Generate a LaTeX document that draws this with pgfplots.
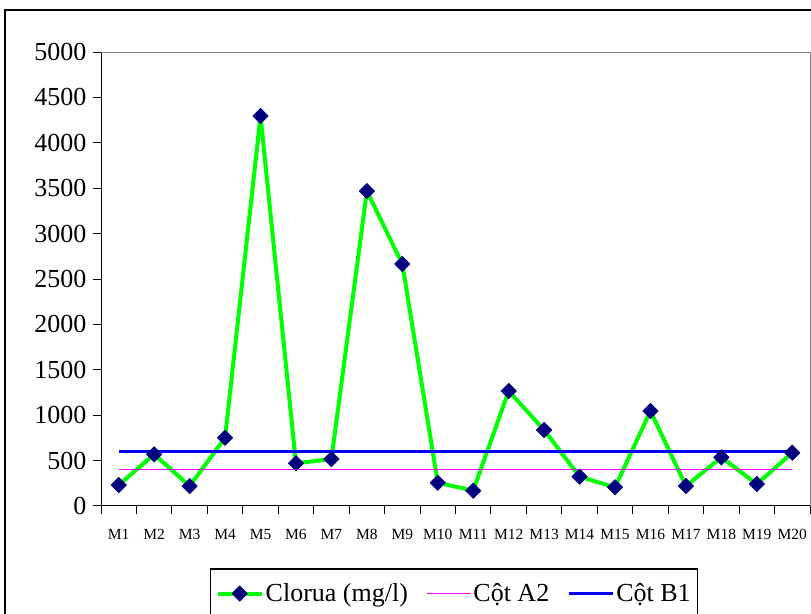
\documentclass[border=0pt]{standalone}
\usepackage{fontspec}
\setmainfont{Liberation Serif}
\usepackage{pgfplots}
\pgfplotsset{compat=1.18}
\definecolor{navy}{HTML}{000080}
\definecolor{lgreen}{HTML}{00FF00}
\definecolor{mag}{RGB}{255,0,255}
\begin{document}
\begin{tikzpicture}
\useasboundingbox (0,0) rectangle (811bp,614bp);
\clip (0,0) rectangle (811bp,614bp);
\draw[line width=1.5bp] (5bp,604bp) rectangle (840bp,-40bp);
\begin{axis}[
  scale only axis, width=709bp, height=454bp,
  at={(101bp,108bp)}, anchor=south west,
  xmin=0.5, xmax=20.5, ymin=0, ymax=5000,
  axis x line*=bottom, axis y line*=left,
  axis line style={-, black, line width=1bp},
  xtick={1,...,20},
  xticklabels={M1,M2,M3,M4,M5,M6,M7,M8,M9,M10,M11,M12,M13,M14,M15,M16,M17,M18,M19,M20},
  major x tick style={draw=none},
  minor xtick={0.5,1.5,...,20.5},
  ytick={0,500,...,5000},
  tick align=outside, major tick length=8bp, minor tick length=8bp,
  tick style={black, line width=1bp},
  yticklabel style={font=\fontsize{26bp}{28bp}\selectfont, xshift=-3bp},
  xticklabel style={font=\fontsize{15.5bp}{17bp}\selectfont, yshift=-12bp},
  /pgf/number format/assume math mode=true,
  /pgf/number format/1000 sep={},
  clip=false,
  legend style={at={(axis description cs:0.1537,-0.1366)}, anchor=north west,
    legend columns=3, draw=black, line width=1.5bp,
    font=\fontsize{26bp}{28bp}\selectfont, inner xsep=5bp, inner ysep=13bp,
    /tikz/every even column/.append style={column sep=16bp}},
  legend image code/.code={\draw[mark repeat=2,mark phase=2] plot coordinates {(0bp,0bp) (22bp,0bp) (44bp,0bp)};},
]
\addplot[lgreen, line width=4bp, line join=round, mark=square*, mark size=5.5bp,
  mark options={rotate=45, fill=navy, draw=navy, line width=0.5bp}]
  coordinates {(1,231) (2,569) (3,220) (4,752) (5,4295) (6,470) (7,517) (8,3469) (9,2665) (10,257)
  (11,169) (12,1267) (13,837) (14,323) (15,206) (16,1046) (17,220) (18,536) (19,242) (20,587)};
\addlegendentry{Clorua (mg/l)}
\addplot[draw=mag, color=mag, line width=1.5bp] coordinates {(1,400) (20,400)};
\addlegendentry{Cột A2}
\addplot[blue, line width=3bp] coordinates {(1,600) (20,600)};
\addlegendentry{Cột B1}
\draw[gray, line width=1bp] (rel axis cs:0,1) -- (rel axis cs:1,1) -- (rel axis cs:1,0);
\end{axis}
\end{tikzpicture}
\end{document}
